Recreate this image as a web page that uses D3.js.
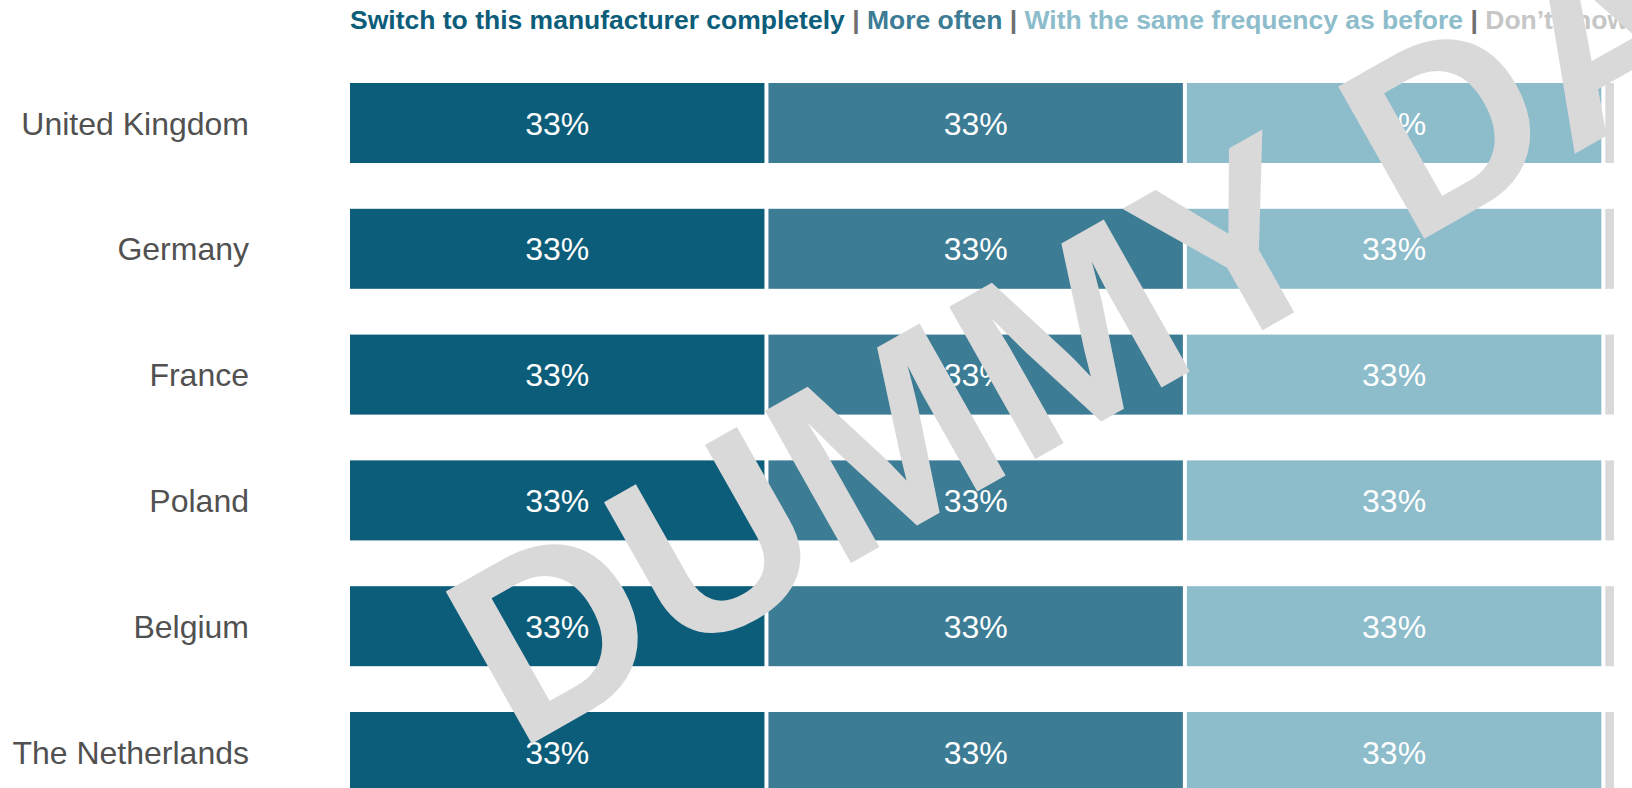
<!DOCTYPE html>
<html>
<head>
<meta charset="utf-8">
<script src="https://cdn.jsdelivr.net/npm/d3@7"></script>
<style>
    body { margin: 0; background: #fff; }
    svg { display: block; font-family: Arial, "Liberation Sans", sans-serif; }
</style>
</head>
<body>
<script>
const countries = ["United Kingdom", "Germany", "France", "Poland", "Belgium", "The Netherlands"];
const answers = ["Switch to this manufacturer completely", "More often", "With the same frequency as before", "Don’t know"];

const switchValues = [33, 33, 33, 33, 33, 33];
const moreOftenValues = [33, 33, 33, 33, 33, 33];
const sameValues = [33, 33, 33, 33, 33, 33];
const dontKnowValues = [1, 1, 1, 1, 1, 1];

const colors = ["#0c5d7a", "#3c7c94", "#8dbccb", "#d9d9d9"];
const legendColors = ["#0c5d7a", "#3c7c94", "#8dbccb", "#c6c6c6"];

const width = 1632,
    height = 788;

// rows built from the arrays
const rows = countries.map((c, i) => ({
    country: c,
    [answers[0]]: switchValues[i],
    [answers[1]]: moreOftenValues[i],
    [answers[2]]: sameValues[i],
    [answers[3]]: dontKnowValues[i]
}));

const series = d3.stack().keys(answers)(rows);

const x = d3.scaleLinear().domain([0, 100]).range([348, 1616]);
const y = d3.scaleBand().domain(countries).range([83, 792]).paddingInner(0.364).paddingOuter(0);
const color = d3.scaleOrdinal().domain(answers).range(colors);

const svg = d3.select("body")
    .append("svg")
    .attr("width", width)
    .attr("height", height);

/**
 * Legend
 */
const legend = svg.append("text")
    .attr("x", 350)
    .attr("y", 29)
    .style("font-size", "26.5px")
    .style("font-weight", "bold");

answers.forEach(function (a, i) {
    if (i > 0) {
        legend.append("tspan")
            .style("fill", "#6f6f6f")
            .text(" | ");
    }
    legend.append("tspan")
        .style("fill", legendColors[i])
        .text(a);
});

/**
 * Country labels
 */
svg.append("g")
    .selectAll("text")
    .data(countries)
    .enter().append("text")
    .attr("x", 249)
    .attr("y", d => y(d) + y.bandwidth() / 2)
    .attr("dy", "0.36em")
    .attr("text-anchor", "end")
    .style("font-size", "32px")
    .style("fill", "#515151")
    .text(d => d);

/**
 * Bars
 */
const layer = svg.selectAll(".layer")
    .data(series)
    .enter().append("g")
    .attr("class", "layer")
    .style("fill", d => color(d.key));

layer.selectAll("rect")
    .data(d => d)
    .enter().append("rect")
    .attr("x", d => x(d[0]) + 2)
    .attr("y", d => y(d.data.country))
    .attr("width", d => Math.max(0, x(d[1]) - x(d[0]) - 4))
    .attr("height", y.bandwidth());

// value labels, not on the tiny "don't know" piece
layer.filter(d => d.key !== answers[3])
    .selectAll("text")
    .data(d => d)
    .enter().append("text")
    .attr("x", d => (x(d[0]) + x(d[1])) / 2)
    .attr("y", d => y(d.data.country) + y.bandwidth() / 2)
    .attr("dy", "0.36em")
    .attr("text-anchor", "middle")
    .style("font-size", "32px")
    .style("fill", "#fff")
    .text(d => (d[1] - d[0]) + "%");

/**
 * Watermark
 */
svg.append("text")
    .attr("transform", "translate(517,752) rotate(-29.5)")
    .style("font-size", "254px")
    .style("font-weight", "bold")
    .style("fill", "#d9d9d9")
    .text("DUMMY DATA");
</script>
</body>
</html>
